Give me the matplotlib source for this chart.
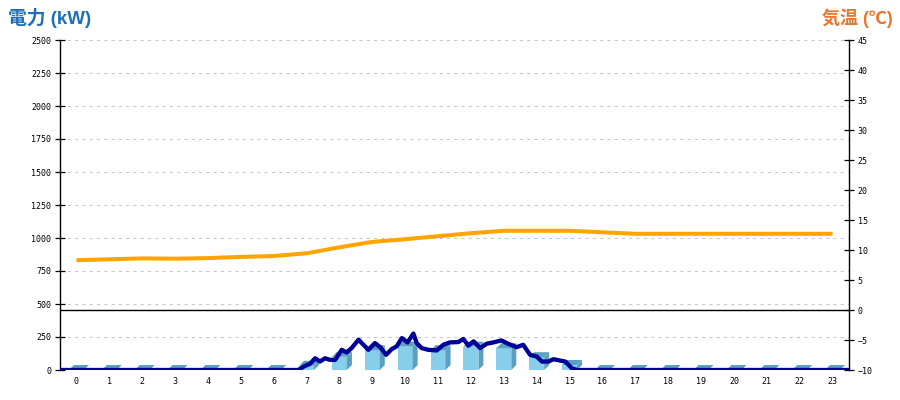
import numpy as np
import matplotlib; matplotlib.use("Agg")
import matplotlib.pyplot as plt
from matplotlib.patches import Polygon

# hourly bins (labels 0..23), bars drawn at the bin centres
hours = np.arange(24)
bar_kw = [0, 0, 0, 0, 0, 0, 0, 32, 100, 150, 177, 150, 177, 165, 97, 38,
          0, 0, 0, 0, 0, 0, 0, 0]
temp_c = [8.3, 8.45, 8.6, 8.55, 8.65, 8.85, 9.0, 9.45, 10.45, 11.35, 11.8, 12.3,
          12.8, 13.2, 13.2, 13.2, 12.95, 12.7, 12.7, 12.7, 12.7, 12.7, 12.7, 12.7]

# power trace, time of day in hours
pw_t = [0.0, 7.25, 7.30, 7.45, 7.60, 7.76, 7.91, 8.06, 8.21, 8.37, 8.57, 8.72, 8.87,
        9.08, 9.23, 9.38, 9.58, 9.74, 9.92, 10.09, 10.24, 10.40, 10.57, 10.75, 10.85,
        11.00, 11.20, 11.46, 11.66, 11.86, 12.12, 12.27, 12.42, 12.58, 12.78, 12.98,
        13.18, 13.43, 13.63, 13.89, 14.09, 14.30, 14.50, 14.66, 14.86, 15.01, 15.22,
        15.37, 15.57, 15.73, 24.0]
pw_kw = [0, 0, 8, 31, 46, 89, 64, 89, 77, 77, 153, 133, 166,
         230, 191, 153, 204, 173, 115, 158, 179, 242, 209, 276, 204,
         166, 153, 148, 191, 209, 212, 235, 184, 217, 166, 199,
         209, 224, 199, 173, 191, 115, 102, 64, 64, 82, 71,
         64, 13, 0, 0]

FRONT, SIDE = "#87CEEB", "#5BA0BE"
NAVY, ORANGE = "#000099", "#FFA500"

fig = plt.figure(figsize=(9, 4), dpi=100)
ax = fig.add_axes([60 / 900, 30 / 400, 789 / 900, 330 / 400])
ax2 = ax.twinx()   # temperature axis drawn on top

ax.set_xlim(0, 24); ax.set_ylim(0, 2500)
ax2.set_ylim(-10, 45)

# pseudo-3D bars
xc = hours + 0.5
w, dx, dy = 0.456, 0.152, 37.9
ax.bar(xc, bar_kw, width=w, color=FRONT, lw=0, zorder=2)
for x, v in zip(xc, bar_kw):
    x0, x1 = x - w / 2, x + w / 2
    ax.add_patch(Polygon([(x0, v), (x0 + dx, v + dy), (x1 + dx, v + dy), (x1, v)],
                         closed=True, fc=SIDE, ec="none", zorder=2))
    if v > 0:
        ax.add_patch(Polygon([(x1, 0), (x1, v), (x1 + dx, v + dy), (x1 + dx, dy)],
                             closed=True, fc=SIDE, ec="none", zorder=2))

ax.plot(pw_t, pw_kw, color=NAVY, lw=3.1, zorder=4, solid_capstyle="butt")
ax2.plot(xc, temp_c, color=ORANGE, lw=2.9, solid_capstyle="butt", zorder=3)
ax2.axhline(0, color="black", lw=1)

ax.set_yticks(np.arange(0, 2501, 250))
for yv in np.arange(250, 2501, 250):
    ax.axhline(yv, color="#c8c8c8", lw=0.75, ls=(0, (3, 4)), zorder=1)
ax2.set_yticks(np.arange(-10, 46, 5))
ax.set_xticks(xc); ax.set_xticklabels([str(h) for h in hours])

for a in (ax, ax2):
    for s in ("top", "bottom"):
        a.spines[s].set_visible(False)
    a.spines["left"].set_linewidth(1); a.spines["right"].set_linewidth(1)
ax.spines["right"].set_visible(False); ax2.spines["left"].set_visible(False)

mono = "DejaVu Sans Mono"
ax.tick_params(axis="y", direction="inout", length=6.5, width=0.9, pad=3, labelsize=6)
ax2.tick_params(axis="y", direction="inout", length=6.5, width=0.9, pad=3, labelsize=6)
ax.tick_params(axis="x", length=0, pad=5, labelsize=6)
for lab in ax.get_xticklabels() + ax.get_yticklabels() + ax2.get_yticklabels():
    lab.set_family(mono)

tfam = ["Liberation Sans", "Noto Sans CJK JP", "DejaVu Sans"]
fig.text(8 / 900, 1 - 18 / 400, "電力 (kW)", family=tfam, fontweight="bold",
         fontsize=13.5, color="#1E6FB8", ha="left", va="center")
fig.text(893 / 900, 1 - 18 / 400, "気温 (℃)", family=tfam, fontweight="bold",
         fontsize=13, color="#E8762C", ha="right", va="center")

fig.savefig("out.png", dpi=100)
